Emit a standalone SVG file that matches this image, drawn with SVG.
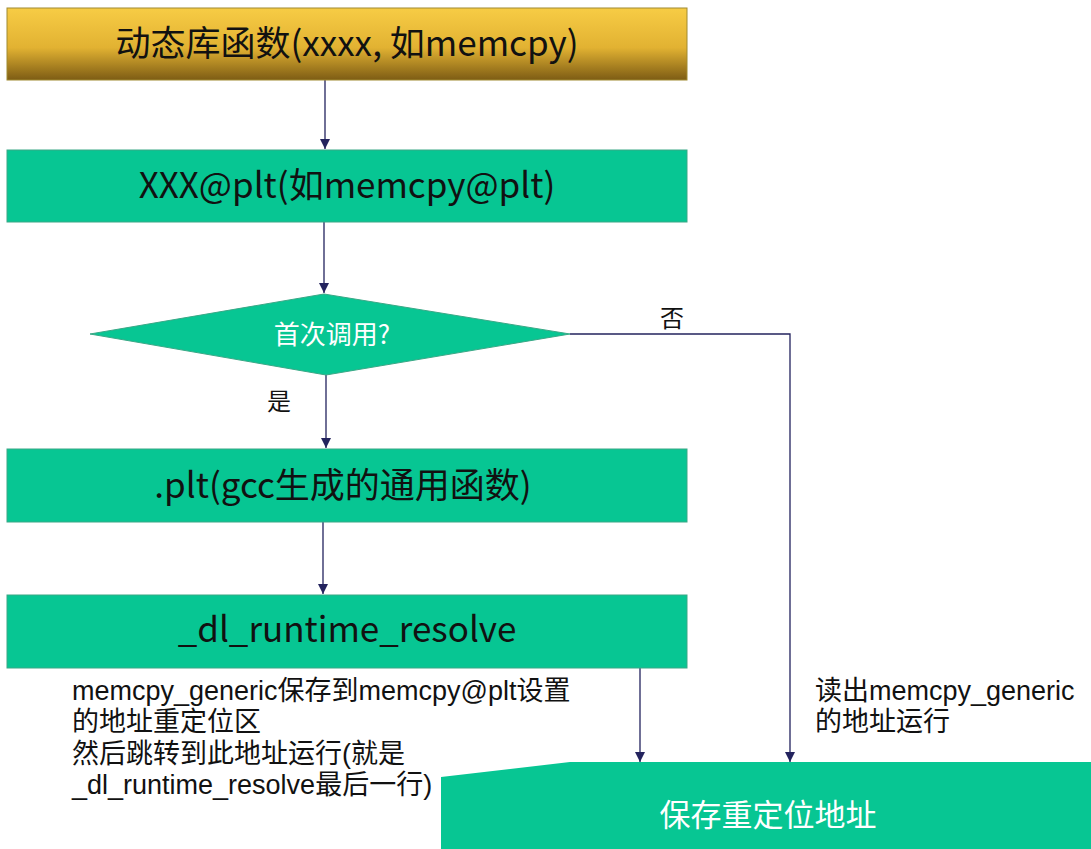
<svg xmlns="http://www.w3.org/2000/svg" width="1091" height="849" viewBox="0 0 1091 849">
<defs>
<linearGradient id="gold" x1="0" y1="0" x2="0" y2="1">
<stop offset="0" stop-color="#f7cc45"/>
<stop offset="0.55" stop-color="#e2b232"/>
<stop offset="1" stop-color="#7d5c14"/>
</linearGradient>
<marker id="arr" viewBox="0 0 10 10" refX="10" refY="5" markerWidth="10" markerHeight="10" markerUnits="userSpaceOnUse" orient="auto">
<path d="M0,0 L10,5 L0,10 z" fill="#23235e"/>
</marker>
<style>
.box{fill:#07c693;stroke:#3aa886;stroke-width:1}
.t{font-family:"Noto Sans CJK SC","Noto Sans",sans-serif;font-size:35px;fill:#111;text-anchor:middle}
.w{fill:#fff}
.lbl{font-family:"Liberation Sans","Noto Sans CJK SC",sans-serif;font-size:27px;fill:#111}
.c{fill:none;stroke:#23235e;stroke-width:1.3}
</style>
</defs>
<rect width="1091" height="849" fill="#fff"/>
<g id="connectors">
<line class="c" x1="325" y1="80" x2="325" y2="149" marker-end="url(#arr)"/>
<line class="c" x1="324" y1="222" x2="324" y2="293" marker-end="url(#arr)"/>
<line class="c" x1="326" y1="375" x2="326" y2="448" marker-end="url(#arr)"/>
<line class="c" x1="323" y1="522" x2="323" y2="594" marker-end="url(#arr)"/>
<line class="c" x1="640" y1="668" x2="640" y2="762" marker-end="url(#arr)"/>
<polyline class="c" points="570,334 790,334 790,762" marker-end="url(#arr)"/>
<text class="lbl" x="660" y="327" style="font-size:24px">否</text>
<text class="lbl" x="267" y="410" style="font-size:24px">是</text>
</g>
<g id="n1">
<rect x="7" y="8" width="680" height="72" fill="url(#gold)" stroke="#a08a30" stroke-width="1"/>
<text class="t" x="347" y="56">动态库函数(xxxx, 如memcpy)</text>
</g>
<g id="n2">
<rect class="box" x="7" y="150" width="680" height="72"/>
<text class="t" x="347" y="198">XXX@plt(如memcpy@plt)</text>
</g>
<g id="n3">
<polygon points="324,294 570,334 326,375 90,334" fill="#07c693" stroke="#3aa886" stroke-width="1"/>
<text class="t w" x="332" y="344" style="font-size:26px">首次调用?</text>
</g>
<g id="n4">
<rect class="box" x="7" y="449" width="680" height="73"/>
<text class="t" x="343" y="498">.plt(gcc生成的通用函数)</text>
</g>
<g id="n5">
<rect class="box" x="7" y="595" width="680" height="73"/>
<text class="t" x="347" y="642">_dl_runtime_resolve</text>
</g>
<g id="n6">
<polygon points="441,777 570,762 1091,762 1091,849 441,849" fill="#07c693"/>
<text class="t w" x="768" y="826" style="font-size:31px">保存重定位地址</text>
</g>
<g id="labels">
<text class="lbl" x="72" y="700">memcpy_generic保存到memcpy@plt设置</text>
<text class="lbl" x="72" y="731">的地址重定位区</text>
<text class="lbl" x="72" y="763">然后跳转到此地址运行(就是</text>
<text class="lbl" x="72" y="794">_dl_runtime_resolve最后一行)</text>
<text class="lbl" x="815" y="700">读出memcpy_generic</text>
<text class="lbl" x="815" y="731">的地址运行</text>
</g>
</svg>
